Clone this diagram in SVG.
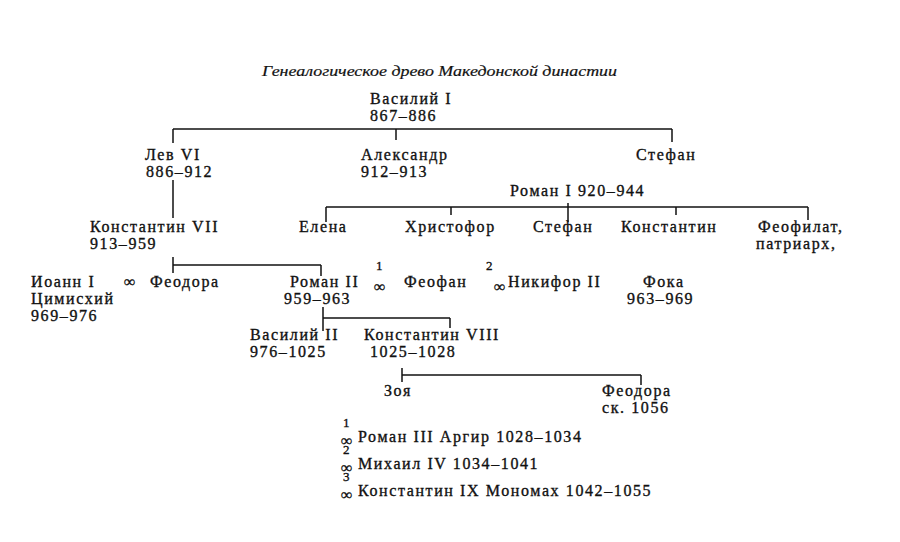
<svg xmlns="http://www.w3.org/2000/svg" width="900" height="542" viewBox="0 0 900 542">
<style>
text{font-family:"Liberation Serif","DejaVu Serif",serif;font-size:16px;letter-spacing:1.6px;fill:#111;stroke:#111;stroke-width:0.35}
.t{font-style:italic;font-size:15px;letter-spacing:0;stroke-width:0.2}
.n{font-size:13px;letter-spacing:0}
.i{letter-spacing:0}
line{stroke:#111;stroke-width:1.5}
</style>
<rect width="900" height="542" fill="#fff"/>
<text class="t" x="262" y="76" textLength="355" lengthAdjust="spacingAndGlyphs">Генеалогическое древо Македонской династии</text>
<g id="connectors">
<line x1="173" y1="129" x2="672" y2="129"/>
<line x1="173" y1="129" x2="173" y2="143"/>
<line x1="396" y1="129" x2="396" y2="140"/>
<line x1="672" y1="129" x2="672" y2="142"/>
<line x1="173" y1="180" x2="173" y2="218"/>
<line x1="326" y1="207" x2="808" y2="207"/>
<line x1="326" y1="207" x2="326" y2="222"/>
<line x1="451" y1="207" x2="451" y2="215"/>
<line x1="568" y1="203" x2="568" y2="222"/>
<line x1="676" y1="207" x2="676" y2="215"/>
<line x1="808" y1="207" x2="808" y2="220"/>
<line x1="173" y1="265" x2="321" y2="265"/>
<line x1="173" y1="257" x2="173" y2="273"/>
<line x1="321" y1="265" x2="321" y2="276"/>
<line x1="323" y1="318" x2="450" y2="318"/>
<line x1="323" y1="307" x2="323" y2="331"/>
<line x1="450" y1="318" x2="450" y2="328"/>
<line x1="402" y1="375" x2="641" y2="375"/>
<line x1="402" y1="368" x2="402" y2="382"/>
<line x1="641" y1="375" x2="641" y2="385"/>
</g>
<g id="basil1"><text x="370" y="104">Василий I</text><text x="370" y="121">867–886</text></g>
<g id="leo6"><text x="145" y="160">Лев VI</text><text x="146" y="177">886–912</text></g>
<g id="alexander"><text x="361" y="160">Александр</text><text x="361" y="177">912–913</text></g>
<g id="stephen1"><text x="636" y="160">Стефан</text></g>
<g id="roman1"><text x="510" y="196">Роман I 920–944</text></g>
<g id="const7"><text x="90" y="232">Константин VII</text><text x="90" y="249">913–959</text></g>
<g id="helena"><text x="299" y="232">Елена</text></g>
<g id="christopher"><text x="405" y="232">Христофор</text></g>
<g id="stephen2"><text x="533" y="232">Стефан</text></g>
<g id="constantine"><text x="621" y="232">Константин</text></g>
<g id="theophylact"><text x="758" y="232">Феофилат,</text><text x="756" y="249">патриарх,</text></g>
<g id="john1"><text x="31" y="287">Иоанн I</text><text x="31" y="304">Цимисхий</text><text x="31" y="321">969–976</text><text class="i" x="124" y="287">∞</text></g>
<g id="theodora1"><text x="150" y="287">Феодора</text></g>
<g id="roman2"><text x="290" y="287">Роман II</text><text x="284" y="304">959–963</text></g>
<g id="theophano"><text class="n" x="376" y="270">1</text><text class="i" x="374" y="292">∞</text><text x="404" y="287">Феофан</text><text class="n" x="486" y="270">2</text><text class="i" x="494" y="292">∞</text></g>
<g id="nikephoros"><text x="508" y="287">Никифор II</text><text x="643" y="287">Фока</text><text x="627" y="304">963–969</text></g>
<g id="basil2"><text x="250" y="340">Василий II</text><text x="250" y="357">976–1025</text></g>
<g id="const8"><text x="364" y="340">Константин VIII</text><text x="370" y="357">1025–1028</text></g>
<g id="zoe"><text x="384" y="396">Зоя</text></g>
<g id="theodora2"><text x="602" y="396">Феодора</text><text x="602" y="413">ск. 1056</text></g>
<g id="husbands">
<text class="n" x="343" y="427">1</text><text class="i" x="341" y="446">∞</text><text x="358" y="442">Роман III Аргир  1028–1034</text>
<text class="n" x="343" y="454">2</text><text class="i" x="341" y="473">∞</text><text x="358" y="469">Михаил IV 1034–1041</text>
<text class="n" x="343" y="481">3</text><text class="i" x="341" y="500">∞</text><text x="358" y="496">Константин IX Мономах 1042–1055</text>
</g>
</svg>
